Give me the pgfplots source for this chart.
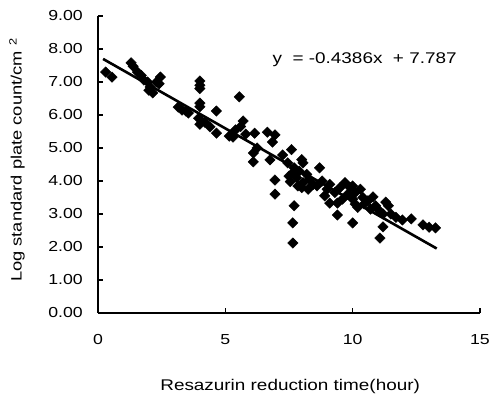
\documentclass[border=0pt]{standalone}
\usepackage{fontspec}
\setmainfont{Liberation Sans}[FakeStretch=1.22]
\usepackage{pgfplots}
\pgfplotsset{compat=1.18}
\begin{document}
\begin{tikzpicture}
\path[use as bounding box] (-98pt,-85pt) rectangle (392pt,313pt);
\begin{axis}[
  scale only axis,
  width=382pt, height=297pt,
  xmin=0, xmax=15, ymin=0, ymax=9,
  axis lines*=left,
  axis line style={line width=1.6pt, black},
  xtick={0,5,10,15},
  ytick={0,1,2,3,4,5,6,7,8,9},
  tick align=inside,
  major tick length=5pt,
  tick style={line width=1.4pt, black},
  /pgf/number format/assume math mode=true,
  yticklabel style={/pgf/number format/fixed, /pgf/number format/fixed zerofill, /pgf/number format/precision=2, inner sep=0pt, xshift=-15pt, font=\fontsize{14.5}{16}\selectfont},
  xticklabel style={inner sep=0pt, yshift=-21pt, font=\fontsize{14.5}{16}\selectfont},
  every axis y label/.style={at={(axis description cs:-0.212,0.515)}, rotate=90, anchor=center, font=\fontsize{15}{17}\selectfont},
  every axis x label/.style={at={(axis description cs:0.503,-0.246)}, anchor=center, font=\fontsize{15.5}{17}\selectfont},
  xlabel={Resazurin reduction time(hour)},
  ylabel={Log standard plate count/cm \textsuperscript{2}},
  clip=false,
]
\addplot[only marks, mark=square*, mark size=3.7pt, mark options={rotate=45, fill=black, draw=black}] coordinates {
(0.30,7.30) (0.55,7.15) (1.30,7.58) (1.38,7.48) (1.55,7.30) (1.70,7.20) (1.80,7.06)
(1.95,7.00) (2.05,6.85) (2.15,6.67) (2.30,7.00) (2.45,7.15) (2.40,6.95) (2.00,6.75)
(3.15,6.24) (3.30,6.15) (3.45,6.12) (3.55,6.06) (4.00,7.03) (4.00,6.90) (4.00,6.80)
(4.00,6.36) (4.00,6.25) (3.95,5.90) (4.00,5.72) (4.20,5.78) (4.40,5.64) (4.65,6.12)
(4.65,5.45) (5.15,5.36) (5.30,5.33) (5.55,6.55) (5.40,5.55) (5.60,5.65) (5.70,5.82)
(5.80,5.42) (6.15,5.45) (6.25,5.00) (6.10,4.85) (6.10,4.58) (6.65,5.48) (6.95,5.40)
(6.85,5.18) (6.75,4.64) (6.95,4.03) (6.95,3.60) (7.25,4.79) (7.60,4.95) (7.70,4.40)
(7.65,4.25) (7.55,3.98) (7.70,3.25) (7.65,2.73) (7.65,2.12) (7.45,4.55) (7.50,4.15)
(7.80,4.10) (7.90,4.30) (8.00,4.65) (8.05,4.55) (8.05,3.95) (8.20,4.20) (7.85,3.85)
(8.00,3.80) (8.25,3.75) (8.30,4.05) (8.45,3.90) (8.70,4.40) (8.80,4.00) (8.60,3.85)
(9.10,3.33) (9.10,3.90) (9.40,2.97) (9.40,3.33) (9.30,3.65) (9.70,3.95) (9.80,3.60)
(9.90,3.80) (10.00,2.73) (10.00,3.45) (10.10,3.65) (10.20,3.20) (10.30,3.75) (10.40,3.50)
(10.45,3.30) (10.60,3.40) (10.80,3.52) (10.90,3.25) (11.05,3.10) (11.07,2.27) (11.19,2.61)
(11.30,3.36) (11.20,3.00) (11.50,3.00) (11.70,2.90) (11.95,2.82) (12.30,2.85) (12.76,2.67)
(13.00,2.60) (13.25,2.58) (9.50,3.80) (9.60,3.45) (10.10,3.30) (10.70,3.15) (9.00,3.75)
(8.90,3.55) (10.00,3.85) (11.40,3.25)
};
\addplot[black, line width=2.6pt] coordinates {(0.2,7.699) (13.3,1.954)};
\node[anchor=west, inner sep=0pt, font=\fontsize{15.5}{17}\selectfont] at (axis cs:6.85,7.67) {y \ = -0.4386x \ + 7.787};
\end{axis}
\end{tikzpicture}
\end{document}
